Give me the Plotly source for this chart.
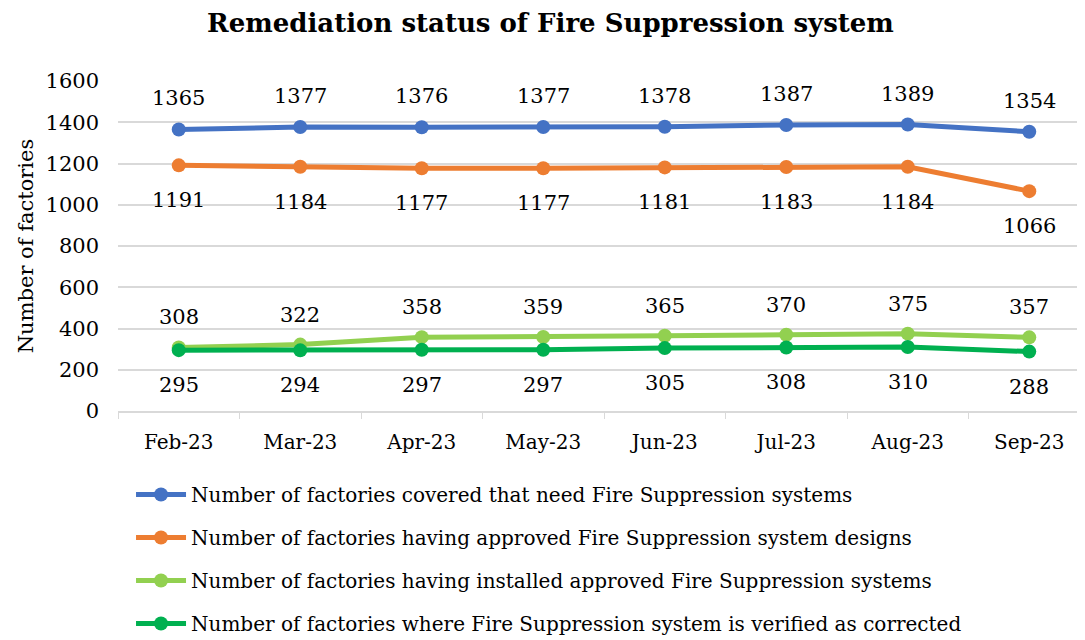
import plotly.graph_objects as go

months = ["Feb-23", "Mar-23", "Apr-23", "May-23", "Jun-23", "Jul-23", "Aug-23", "Sep-23"]

covered = [1365, 1377, 1376, 1377, 1378, 1387, 1389, 1354]
approved_designs = [1191, 1184, 1177, 1177, 1181, 1183, 1184, 1066]
installed = [308, 322, 358, 359, 365, 370, 375, 357]
verified = [295, 294, 297, 297, 305, 308, 310, 288]

# name, values, colour, label offset in px (positive = above the point)
series = [
    ("Number of factories covered that need Fire Suppression systems", covered, "#4472C4", 31),
    ("Number of factories having approved Fire Suppression system designs", approved_designs, "#ED7D31", -35),
    ("Number of factories having installed approved Fire Suppression systems", installed, "#92D050", 30),
    ("Number of factories where Fire Suppression system is verified as corrected", verified, "#00B050", -35),
]

FONT = "DejaVu Serif"

fig = go.Figure()
for i, (name, vals, color, shift) in enumerate(series):
    fig.add_trace(
        go.Scatter(
            x=months,
            y=vals,
            name=name,
            legendgroup=f"g{i}",
            mode="lines+markers",
            line=dict(color=color, width=5),
            marker=dict(color=color, size=14),
        )
    )
    # data labels, pushed further off the points than plotly's textposition does
    for m, v in zip(months, vals):
        fig.add_annotation(
            x=m, y=v, text=str(v), showarrow=False,
            yshift=shift, yanchor="middle",
            font=dict(size=21, color="black", family=FONT),
        )

fig.update_layout(
    width=1085,
    height=640,
    template="plotly_white",
    font=dict(family=FONT, size=20, color="black"),
    title=dict(
        text="<b>Remediation status of Fire Suppression system</b>",
        x=0.5,
        xanchor="center",
        y=0.977,
        yanchor="middle",
        font=dict(size=26, family=FONT),
    ),
    xaxis=dict(
        range=[-0.5, 7.5],
        showgrid=False,
        showline=True,
        linecolor="#d9d9d9",
        linewidth=2,
        ticks="outside",
        ticklen=6,
        tickcolor="#d9d9d9",
        tickson="boundaries",
        ticklabelstandoff=12,
        tickfont=dict(size=20),
    ),
    yaxis=dict(
        range=[0, 1600],
        dtick=200,
        gridcolor="#d9d9d9",
        gridwidth=2,
        zeroline=False,
        ticklabelstandoff=18,
        title=dict(text="Number of factories", font=dict(size=21), standoff=6),
        tickfont=dict(size=21),
    ),
    legend=dict(
        orientation="v",
        x=0.0134,
        xanchor="left",
        y=-0.194,
        yanchor="top",
        traceorder="grouped",
        tracegroupgap=14,
        font=dict(size=20),
        itemwidth=50,
    ),
    margin=dict(l=110, r=3, t=73, b=237),
    plot_bgcolor="white",
)

fig.write_html("out.html")
